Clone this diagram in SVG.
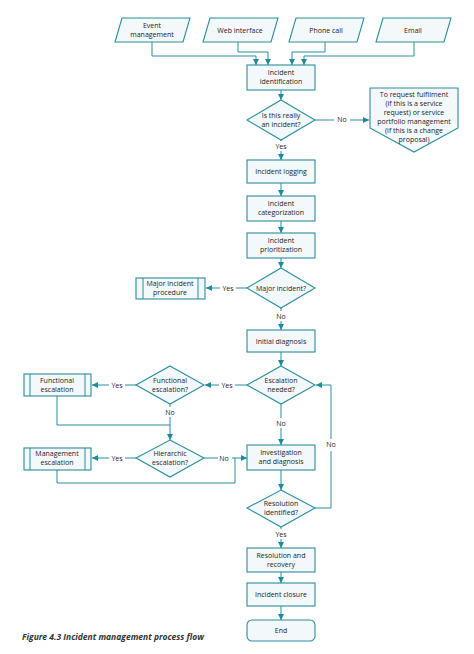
<svg xmlns="http://www.w3.org/2000/svg" width="474" height="654" viewBox="0 0 474 654">
<defs>
<marker id="ar" viewBox="0 0 6 6" refX="6" refY="3" markerWidth="6" markerHeight="6" orient="auto"><path d="M0,0L6,3L0,6z" fill="#1f8a99"/></marker>
<style>
.s{fill:#f3f9fa;stroke:#2a8d9c;stroke-width:1.1}
.c{fill:none;stroke:#2a8d9c;stroke-width:1}
.a{marker-end:url(#ar)}
text{font-family:"Open Sans","Liberation Sans",sans-serif;font-size:7px;fill:#222;text-anchor:middle}
.l{fill:#fff}
</style>
</defs>
<rect width="474" height="654" fill="#fff"/>
<g id="connectors">
<path class="c a" d="M152,42V56H256V65"/>
<path class="c a" d="M238,42V52H268V65"/>
<path class="c a" d="M325,42V52H292V65"/>
<path class="c a" d="M414,42V56H304V65"/>
<path class="c a" d="M281,90V100"/>
<path class="c a" d="M315,120H369"/>
<path class="c a" d="M281,140V160"/>
<path class="c a" d="M281,183V196"/>
<path class="c a" d="M281,221V233"/>
<path class="c a" d="M281,258V268"/>
<path class="c a" d="M247,288H206"/>
<path class="c a" d="M281,308V330"/>
<path class="c a" d="M281,352V366"/>
<path class="c a" d="M247,385H205"/>
<path class="c a" d="M136,385H92"/>
<path class="c a" d="M170,404V440"/>
<path class="c" d="M57,396V425H170"/>
<path class="c a" d="M136,458H92"/>
<path class="c a" d="M204,458H247"/>
<path class="c" d="M57,470V483H235V458"/>
<path class="c a" d="M281,404V445"/>
<path class="c a" d="M281,470V490"/>
<path class="c a" d="M315,508H331V385H316"/>
<path class="c a" d="M281,527V548"/>
<path class="c a" d="M281,572V583"/>
<path class="c a" d="M281,606V620"/>
<rect class="l" x="334" y="114" width="16" height="10"/><text x="342" y="122">No</text>
<rect class="l" x="273" y="141" width="16" height="10"/><text x="281" y="149">Yes</text>
<rect class="l" x="220" y="283" width="16" height="10"/><text x="228" y="291">Yes</text>
<rect class="l" x="273" y="311" width="16" height="10"/><text x="281" y="319">No</text>
<rect class="l" x="219" y="380" width="16" height="10"/><text x="227" y="388">Yes</text>
<rect class="l" x="109" y="380" width="16" height="10"/><text x="117" y="388">Yes</text>
<rect class="l" x="162" y="407" width="16" height="10"/><text x="170" y="415">No</text>
<rect class="l" x="273" y="418" width="16" height="10"/><text x="281" y="426">No</text>
<rect class="l" x="109" y="453" width="16" height="10"/><text x="117" y="461">Yes</text>
<rect class="l" x="218" y="453" width="14" height="10"/><text x="224" y="461">No</text>
<rect class="l" x="325" y="439" width="14" height="12"/><text x="331" y="447">No</text>
<rect class="l" x="273" y="529" width="16" height="10"/><text x="281" y="537">Yes</text>
</g>
<g id="n-event"><path class="s" d="M122,18H190L183,42H115Z"/><text x="152" y="28">Event</text><text x="152" y="37">management</text></g>
<g id="n-web"><path class="s" d="M210,18H278L271,42H203Z"/><text x="240" y="33">Web interface</text></g>
<g id="n-phone"><path class="s" d="M296,18H364L357,42H289Z"/><text x="326" y="33">Phone call</text></g>
<g id="n-email"><path class="s" d="M383,18H451L444,42H376Z"/><text x="413" y="33">Email</text></g>
<g id="n-ident"><rect class="s" x="247" y="65" width="68" height="25"/><text x="281" y="75">Incident</text><text x="281" y="84">identification</text></g>
<g id="n-really"><path class="s" d="M281,100L315,120L281,140L247,120Z"/><text x="281" y="118">Is this really</text><text x="281" y="127">an incident?</text></g>
<g id="n-request"><path class="s" d="M370,88H458V128L414,152L370,128Z"/><text x="414" y="97">To request fulfilment</text><text x="414" y="106">(if this is a service</text><text x="414" y="115">request) or service</text><text x="414" y="124">portfolio management</text><text x="414" y="133">(if this is a change</text><text x="414" y="142">proposal)</text></g>
<g id="n-logging"><rect class="s" x="247" y="160" width="68" height="23"/><text x="281" y="174">Incident logging</text></g>
<g id="n-categ"><rect class="s" x="247" y="196" width="68" height="25"/><text x="281" y="206">Incident</text><text x="281" y="215">categorization</text></g>
<g id="n-prior"><rect class="s" x="247" y="233" width="68" height="25"/><text x="281" y="243">Incident</text><text x="281" y="252">prioritization</text></g>
<g id="n-major"><path class="s" d="M281,268L315,288L281,308L247,288Z"/><text x="281" y="291">Major incident?</text></g>
<g id="n-majorproc"><rect class="s" x="136" y="278" width="69" height="21"/><path class="c" d="M143,278V299M198,278V299"/><text x="170" y="286">Major incident</text><text x="170" y="295">procedure</text></g>
<g id="n-initial"><rect class="s" x="247" y="330" width="68" height="22"/><text x="281" y="344">Initial diagnosis</text></g>
<g id="n-escal"><path class="s" d="M281,366L315,385L281,404L247,385Z"/><text x="281" y="383">Escalation</text><text x="281" y="392">needed?</text></g>
<g id="n-funcq"><path class="s" d="M170,366L204,385L170,404L136,385Z"/><text x="170" y="383">Functional</text><text x="170" y="392">escalation?</text></g>
<g id="n-func"><rect class="s" x="24" y="374" width="67" height="22"/><path class="c" d="M30,374V396M85,374V396"/><text x="57" y="383">Functional</text><text x="57" y="392">escalation</text></g>
<g id="n-hierq"><path class="s" d="M170,440L204,458L170,477L136,458Z"/><text x="170" y="456">Hierarchic</text><text x="170" y="465">escalation?</text></g>
<g id="n-mgmt"><rect class="s" x="24" y="448" width="67" height="22"/><path class="c" d="M30,448V470M85,448V470"/><text x="57" y="456">Management</text><text x="57" y="465">escalation</text></g>
<g id="n-invest"><rect class="s" x="247" y="445" width="68" height="25"/><text x="281" y="455">Investigation</text><text x="281" y="464">and diagnosis</text></g>
<g id="n-resq"><path class="s" d="M281,490L315,508L281,527L247,508Z"/><text x="281" y="506">Resolution</text><text x="281" y="515">identified?</text></g>
<g id="n-recov"><rect class="s" x="247" y="548" width="68" height="24"/><text x="281" y="558">Resolution and</text><text x="281" y="567">recovery</text></g>
<g id="n-closure"><rect class="s" x="247" y="583" width="68" height="23"/><text x="281" y="597">Incident closure</text></g>
<g id="n-end"><rect class="s" x="247" y="620" width="68" height="21" rx="5"/><text x="281" y="633">End</text></g>
<text x="22" y="640" style="text-anchor:start;font-size:8.5px;font-style:italic;font-weight:bold;fill:#333">Figure 4.3  Incident management process flow</text>
</svg>
